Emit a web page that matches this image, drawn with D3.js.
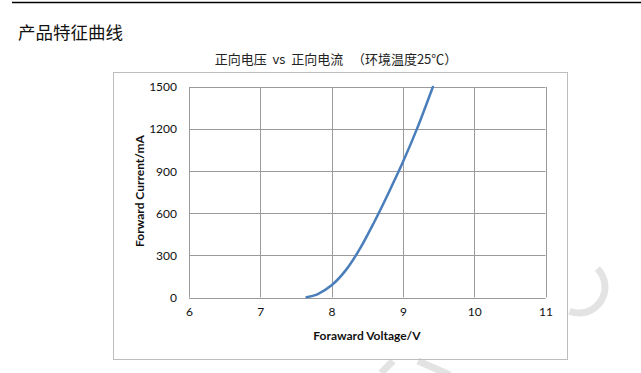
<!DOCTYPE html>
<html lang='en'>
<head>
  <meta charset='UTF-8'>
  <title>产品特征曲线</title>
  <script src='https://d3js.org/d3.v7.min.js'></script>
  <style>
    body { margin: 0; background: #fff; }
    #main { width: 641px; height: 373px; }
  </style>
</head>
<body>
<div id='main'></div>
<script>
  // 曲线数据
  const voltage = [7.65, 7.8, 8.0, 8.2, 8.4, 8.6, 8.8, 9.0, 9.2, 9.42]
  const current = [2, 23, 87, 195, 350, 540, 747, 965, 1205, 1500]
  const xTicks = [6, 7, 8, 9, 10, 11]
  const yTicks = [0, 300, 600, 900, 1200, 1500]

  const width = 641
  const height = 373
  const latin = "Lato, 'Open Sans', 'Noto Sans', sans-serif"
  const cjk = "'Noto Sans CJK SC', sans-serif"

  const svg = d3.select('#main').append('svg')
    .attr('width', width)
    .attr('height', height)

  // 水印
  const wm = svg.append('g').attr('fill', 'none').attr('stroke', '#e3e3e3').attr('stroke-width', 7)
  wm.append('path')
    .attr('d', d3.arc().innerRadius(26).outerRadius(26).startAngle(Math.PI * 0.25).endAngle(Math.PI * 1.12)())
    .attr('transform', 'translate(579,287)')
  wm.append('line').attr('x1', 393).attr('y1', 361).attr('x2', 381).attr('y2', 373)
  wm.append('line').attr('x1', 418).attr('y1', 361).attr('x2', 450).attr('y2', 375)

  // 顶部分隔线
  svg.append('line')
    .attr('x1', 12).attr('x2', width).attr('y1', 2.5).attr('y2', 2.5)
    .attr('stroke', '#000').attr('stroke-width', 1.5)

  svg.append('text')
    .attr('x', 18).attr('y', 39)
    .style('font-family', cjk).style('font-size', '17.5px').style('fill', '#111')
    .text('产品特征曲线')

  // 图表外框
  svg.append('rect')
    .attr('x', 113.5).attr('y', 72.5).attr('width', 454).attr('height', 287)
    .attr('fill', 'none').attr('stroke', '#bdbdbd')

  svg.append('text')
    .attr('x', 336).attr('y', 64)
    .attr('text-anchor', 'middle')
    .style('font-family', cjk).style('font-size', '13px').style('fill', '#222')
    .attr('xml:space', 'preserve')
    .text('正向电压  vs  正向电流   （环境温度25℃）')

  const x = d3.scaleLinear().domain([6, 11]).range([189, 545.5])
  const y = d3.scaleLinear().domain([0, 1500]).range([297.5, 87])

  // 网格
  const grid = svg.append('g').attr('stroke', '#9a9a9a').attr('stroke-width', 1)
  grid.selectAll('.v').data(xTicks).enter().append('line')
    .attr('x1', d => Math.round(x(d)) + 0.5).attr('x2', d => Math.round(x(d)) + 0.5)
    .attr('y1', y(0)).attr('y2', y(1500))
  grid.selectAll('.h').data(yTicks).enter().append('line')
    .attr('x1', x(6)).attr('x2', x(11))
    .attr('y1', d => Math.round(y(d)) + 0.5).attr('y2', d => Math.round(y(d)) + 0.5)

  // 坐标轴
  const xAxis = svg.append('g')
    .attr('transform', `translate(0,${y(0)})`)
    .call(d3.axisBottom(x).tickValues(xTicks).tickFormat(d3.format('d')).tickSize(0).tickPadding(10))
  const yAxis = svg.append('g')
    .attr('transform', `translate(${x(6)},0)`)
    .call(d3.axisLeft(y).tickValues(yTicks).tickFormat(d3.format('d')).tickSize(0).tickPadding(12))
  ;[xAxis, yAxis].forEach(a => {
    a.select('.domain').remove()
    a.selectAll('text').style('font-family', latin).style('font-size', '12px').style('fill', '#111')
  })

  // 曲线
  const line = d3.line()
    .x((d, i) => x(voltage[i]))
    .y(d => y(d))
    .curve(d3.curveCatmullRom)
  svg.append('path')
    .datum(current)
    .attr('d', line)
    .attr('fill', 'none')
    .attr('stroke', '#4a7ebb')
    .attr('stroke-width', 2.5)
    .attr('stroke-linecap', 'round')

  // 轴标题
  svg.append('text')
    .attr('x', 367).attr('y', 340)
    .attr('text-anchor', 'middle')
    .style('font-family', latin).style('font-size', '12px').style('font-weight', 'bold').style('fill', '#111')
    .text('Foraward Voltage/V')
  svg.append('text')
    .attr('transform', 'translate(144,191) rotate(-90)')
    .attr('text-anchor', 'middle')
    .style('font-family', latin).style('font-size', '12px').style('font-weight', 'bold').style('fill', '#111')
    .text('Forward Current/mA')
</script>
</body>
</html>
